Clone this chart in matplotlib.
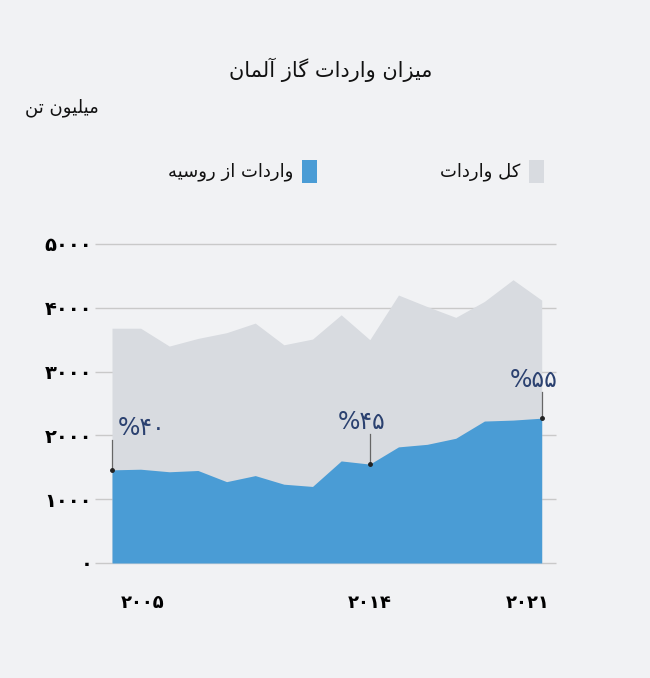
import matplotlib
matplotlib.use("Agg")
import matplotlib.pyplot as plt
from matplotlib.patches import Rectangle

# values (million tonnes)
total_imports = [3680, 3680, 3400, 3520, 3610, 3760, 3420, 3510,
                 3890, 3500, 4200, 4020, 3850, 4100, 4440, 4120]
russia_imports = [1460, 1470, 1430, 1450, 1275, 1370, 1235, 1200,
                  1600, 1550, 1820, 1860, 1955, 2225, 2240, 2270]
year_ticks = [1.05, 9.0, 14.5]
year_labels = ["۲۰۰۵", "۲۰۱۴", "۲۰۲۱"]
y_ticks = [0, 1000, 2000, 3000, 4000, 5000]
y_labels = ["۰", "۱۰۰۰", "۲۰۰۰", "۳۰۰۰", "۴۰۰۰", "۵۰۰۰"]
share_idx = [0, 9, 15]
share_labels = ["%۴۰", "%۴۵", "%۵۵"]

title = "میزان واردات گاز آلمان"
unit = "میلیون تن"
lbl_total = "کل واردات"
lbl_russia = "واردات از روسیه"

# matplotlib has no arabic shaping, so pick the joined glyph forms by hand
# (isolated, final, initial, medial)
FORMS = {
    'ا': ('\uFE8D', '\uFE8E', None, None),
    'آ': ('\uFE81', '\uFE82', None, None),
    'ت': ('\uFE95', '\uFE96', '\uFE97', '\uFE98'),
    'د': ('\uFEA9', '\uFEAA', None, None),
    'ر': ('\uFEAD', '\uFEAE', None, None),
    'ز': ('\uFEAF', '\uFEB0', None, None),
    'س': ('\uFEB1', '\uFEB2', '\uFEB3', '\uFEB4'),
    'ل': ('\uFEDD', '\uFEDE', '\uFEDF', '\uFEE0'),
    'م': ('\uFEE1', '\uFEE2', '\uFEE3', '\uFEE4'),
    'ن': ('\uFEE5', '\uFEE6', '\uFEE7', '\uFEE8'),
    'ه': ('\uFEE9', '\uFEEA', '\uFEEB', '\uFEEC'),
    'و': ('\uFEED', '\uFEEE', None, None),
    'ی': ('\uFBFC', '\uFBFD', '\uFBFE', '\uFBFF'),
    'گ': ('\uFB92', '\uFB93', '\uFB94', '\uFB95'),
    'ک': ('\uFB8E', '\uFB8F', '\uFB90', '\uFB91'),
}


def fa(s):
    out = []
    for i, c in enumerate(s):
        if c not in FORMS:
            out.append(c)
            continue
        prev = s[i - 1] if i > 0 else ''
        nxt = s[i + 1] if i + 1 < len(s) else ''
        join_prev = prev in FORMS and FORMS[prev][2] is not None
        join_next = nxt in FORMS and FORMS[c][2] is not None
        iso, fin, ini, med = FORMS[c]
        if join_prev and join_next:
            out.append(med)
        elif join_prev:
            out.append(fin)
        elif join_next:
            out.append(ini)
        else:
            out.append(iso)
    return ''.join(reversed(out))


BG = '#f1f2f4'
GREY = '#d8dbe0'
BLUE = '#4a9cd5'
NAVY = '#2b4170'

plt.rcParams['font.family'] = ['DejaVu Sans']

fig = plt.figure(figsize=(6.5, 6.78), dpi=100, facecolor=BG)
ax = fig.add_axes([95 / 650, 1 - 563 / 678, (556 - 95) / 650, (563 - 244) / 678])
ax.set_facecolor(BG)

x = list(range(len(total_imports)))
ax.fill_between(x, 0, total_imports, color=GREY, lw=0, zorder=2)
ax.fill_between(x, 0, russia_imports, color=BLUE, lw=0, zorder=3)

ax.set_xlim(-(112 - 95) / 28.65, 15 + (556 - 541.7) / 28.65)
ax.set_ylim(0, 5000)
ax.set_yticks(y_ticks)
ax.set_yticklabels(y_labels, fontsize=14, fontweight='bold')
ax.set_xticks(year_ticks)
ax.set_xticklabels(year_labels, fontsize=13, fontweight='bold')
ax.tick_params(length=0, pad=2)
ax.tick_params(axis='x', pad=22)
ax.hlines(y_ticks, *ax.get_xlim(), color='#c9c9c9', lw=1, zorder=1, clip_on=False)
for s in ax.spines.values():
    s.set_visible(False)

# share labels with leader lines
rise = [30, 30, 26]
for k, i in enumerate(share_idx):
    v = russia_imports[i]
    top = v + rise[k] / 63.8 * 1000
    ax.plot([i, i], [v, top], color='#666666', lw=0.9, zorder=4)
    ax.plot(i, v, 'o', color='#222222', ms=2.5, zorder=5)
    if k == 0:
        ax.text(i + 0.2, top, share_labels[k], color=NAVY, fontsize=17,
                ha='left', va='bottom', zorder=6)
    else:
        ax.text(i + 0.55, top, share_labels[k], color=NAVY, fontsize=17,
                ha='right', va='bottom', zorder=6)

fig.text(331 / 650, 1 - 70 / 678, fa(title), fontsize=15,
         ha='center', va='center', color='#111111')
fig.text(99 / 650, 1 - 108 / 678, fa(unit), fontsize=13, ha='right', va='center', color='#111111')

# legend, right to left
for x0, col, lbl in [(529, GREY, lbl_total), (302, BLUE, lbl_russia)]:
    fig.add_artist(Rectangle((x0 / 650, 1 - 183 / 678), 15 / 650, 23 / 678,
                             transform=fig.transFigure, color=col, lw=0))
    fig.text((x0 - 9) / 650, 1 - 172 / 678, fa(lbl), fontsize=13, ha='right', va='center', color='#111111')

fig.savefig('out.png', dpi=100, facecolor=BG)
